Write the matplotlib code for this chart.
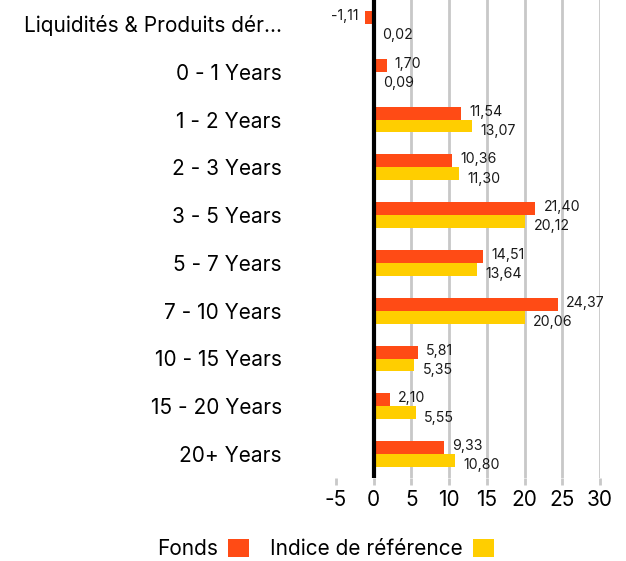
import numpy as np
from matplotlib import pyplot as plt

# DATA
categories = ['Liquidités & Produits dér…', '0 - 1 Years', '1 - 2 Years', '2 - 3 Years',
              '3 - 5 Years', '5 - 7 Years', '7 - 10 Years', '10 - 15 Years',
              '15 - 20 Years', '20+ Years']
fonds = [-1.11, 1.70, 11.54, 10.36, 21.40, 14.51, 24.37, 5.81, 2.10, 9.33]
indice = [0.02, 0.09, 13.07, 11.30, 20.12, 13.64, 20.06, 5.35, 5.55, 10.80]
x_ticks = [-5, 0, 5, 10, 15, 20, 25, 30]

ORANGE = '#ff4b15'
YELLOW = '#ffce00'
FONT = 'Inter'


def fmt(v):
    return ('%.2f' % v).replace('.', ',')


def main():
    plt.rcParams['font.family'] = [FONT, 'DejaVu Sans']

    fig = plt.figure(figsize=(6.26, 5.61), dpi=100)
    ax = fig.add_axes([336 / 626, 83 / 561, 264 / 626, 478 / 561])

    y = np.arange(len(categories))
    h = 0.27

    # Bars
    ax.barh(y - h / 2, fonds, height=h, color=ORANGE, label='Fonds', zorder=3)
    ax.barh(y + h / 2, indice, height=h, color=YELLOW, label='Indice de référence', zorder=3)

    # Value labels (fund slightly up, index pushed down a bit)
    for yi, v in zip(y - h / 2, fonds):
        ax.annotate(fmt(v), (v, yi), xytext=(6 if v >= 0 else -5, 1), textcoords='offset points',
                    ha='left' if v >= 0 else 'right', va='center', fontsize=10.2, color='#1a1a1a')
    for yi, v in zip(y + h / 2, indice):
        ax.annotate(fmt(v), (v, yi), xytext=(6, -3.5), textcoords='offset points',
                    ha='left', va='center', fontsize=10.2, color='#1a1a1a')

    # Axes
    ax.set_xlim(-5, 30)
    ax.set_ylim(len(categories) - 0.5, -0.5)
    ax.set_yticks(y)
    ax.set_yticklabels(categories, fontsize=15)
    ax.set_xticks(x_ticks)
    ax.set_xticklabels([str(t) for t in x_ticks], fontsize=15)
    ax.tick_params(axis='y', length=0, pad=39)
    ax.tick_params(axis='x', length=5, width=2, color='#c8c8c8', pad=4)

    for spine in ax.spines.values():
        spine.set_visible(False)

    # Grid
    for t in x_ticks:
        if t > 0:
            ax.axvline(t, color='#c8c8c8', lw=2, zorder=1)
    ax.axvline(0, color='black', lw=3, zorder=4)

    # Legend
    fig.legend(loc='center', bbox_to_anchor=(0.52, 12 / 561), ncol=2, frameon=False, markerfirst=False,
               fontsize=15, handlelength=1.0, handleheight=1.0, handletextpad=0.5, columnspacing=1.0)

    plt.savefig('out.png', dpi=100)

    return


if __name__ == '__main__':
    main()
